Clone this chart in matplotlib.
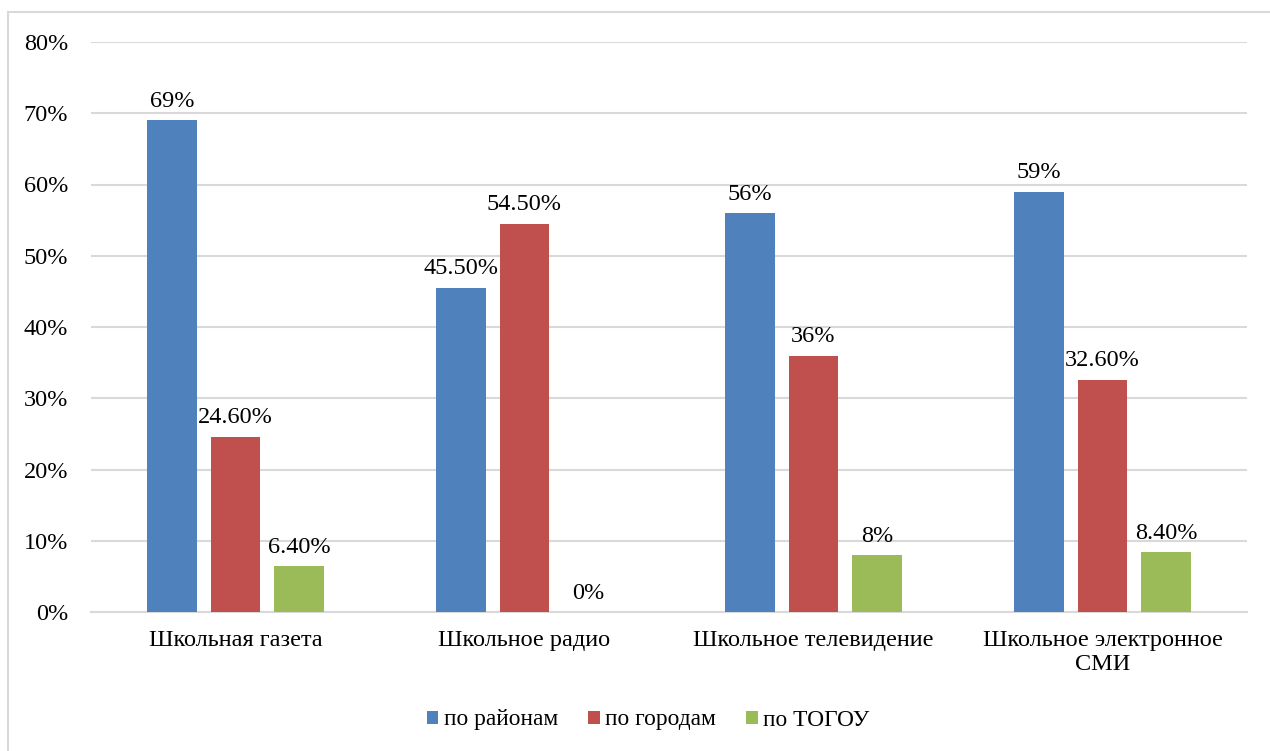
import numpy as np
import matplotlib.pyplot as plt
from matplotlib.patches import Rectangle

categories = ['Школьная газета', 'Школьное радио', 'Школьное телевидение',
              'Школьное электронное\nСМИ']
series = ['по районам', 'по городам', 'по ТОГОУ']
values = [
    [69.0, 45.5, 56.0, 59.0],
    [24.6, 54.5, 36.0, 32.6],
    [6.4, 0.0, 8.0, 8.4],
]
value_labels = [
    ['69%', '45.50%', '56%', '59%'],
    ['24.60%', '54.50%', '36%', '32.60%'],
    ['6.40%', '0%', '8%', '8.40%'],
]
colors = ['#4f81bd', '#c0504d', '#9bbb59']

plt.rcParams['font.family'] = ['Liberation Serif', 'DejaVu Serif']
fs = 17.5

fig = plt.figure(figsize=(12.7, 7.51), dpi=100)
ax = fig.add_axes([91 / 1270, 1 - 612 / 751, 1156 / 1270, 570 / 751])

fig.patches.append(Rectangle((8 / 1270, -0.05), 1.1, 1 - 12 / 751 + 0.05,
                             transform=fig.transFigure, fill=False,
                             edgecolor='#d9d9d9', linewidth=1.5))

x = np.arange(len(categories))
width = 0.173
offset = 0.22
for i, name in enumerate(series):
    xs = x + (i - 1) * offset
    ax.bar(xs, values[i], width, color=colors[i], label=name, zorder=3)
    for xi, v, lab in zip(xs, values[i], value_labels[i]):
        ax.annotate(lab, (xi, v), xytext=(0, 6), textcoords='offset points',
                    ha='center', va='bottom', fontsize=fs)

ax.set_xlim(-0.5, len(categories) - 0.5)
ax.set_ylim(0, 80)
ax.set_yticks(range(0, 81, 10))
ax.set_yticklabels([f'{t}%' for t in range(0, 81, 10)], fontsize=fs)
ax.set_xticks(x)
ax.set_xticklabels(categories, fontsize=fs, linespacing=1.2)
ax.tick_params(axis='both', length=0)
ax.tick_params(axis='y', pad=16.5)
ax.tick_params(axis='x', pad=13)
ax.grid(axis='y', color='#d9d9d9', linewidth=1.5, zorder=0)
for s in ['top', 'right', 'left']:
    ax.spines[s].set_visible(False)
ax.spines['bottom'].set_color('#d9d9d9')
ax.spines['bottom'].set_linewidth(1.5)

fig.legend(loc='center', bbox_to_anchor=(648 / 1270, 1 - 720 / 751), ncol=3,
           frameon=False, fontsize=16.8, handlelength=0.5, handleheight=0.5,
           handletextpad=0.22, columnspacing=1.3)

fig.savefig('out.png', dpi=100)
